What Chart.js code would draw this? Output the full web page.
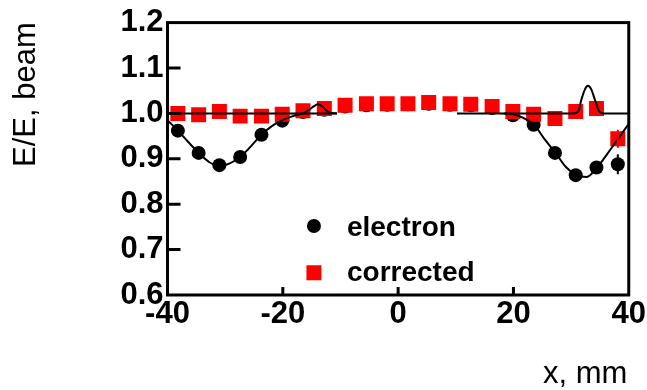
<!DOCTYPE html>
<html>
<head>
<meta charset="utf-8">
<script src="https://cdn.jsdelivr.net/npm/chart.js@4.4.1/dist/chart.umd.min.js"></script>
<style>
html, body { margin: 0; padding: 0; background: #fff; }
#wrap { width: 647px; height: 390px; position: relative; }
</style>
</head>
<body>
<div id="wrap"><canvas id="chart"></canvas></div>
<script>
// bin centres (mm)
const xPos = [-38.2, -34.6, -31.0, -27.4, -23.7, -20.1, -16.5, -12.8, -9.2, -5.5, -1.9,
              1.7, 5.3, 9.0, 12.6, 16.3, 19.9, 23.5, 27.2, 30.8, 34.4, 38.1];
const electron = [0.962, 0.913, 0.886, 0.904, 0.953, 0.984, 1.003, 1.008, 1.015, 1.018, 1.019,
                  1.020, 1.021, 1.019, 1.018, 1.012, 0.996, 0.975, 0.913, 0.864, 0.881, 0.888];
const corrected = [1.000, 0.997, 1.004, 0.994, 0.994, 0.998, 1.006, 1.011, 1.018, 1.021, 1.021,
                   1.021, 1.024, 1.021, 1.020, 1.015, 1.004, 0.998, 0.989, 1.004, 1.011, 0.944];
const electronErr = [0,0,0,0,0,0,0,0,0,0,0,0,0,0,0,0,0,0,0,0,0,0.022];
const correctedErr = [0,0,0,0,0,0,0,0,0,0,0,0,0,0,0,0,0,0,0,0,0,0.020];

// fitted curves
const fitLeftX = [-40, -38.2, -36.4, -34.6, -32.8, -31.0, -29.2, -27.4, -25.5, -23.7, -21.9, -20.1,
                  -18.5, -17.1, -16.2, -15.4, -14.6, -13.9, -13.2, -12.5, -11.6, -10.6];
const fitLeftY = [0.985, 0.962, 0.937, 0.913, 0.893, 0.884, 0.890, 0.904, 0.928, 0.953, 0.972, 0.985,
                  0.993, 0.998, 1.002, 1.008, 1.016, 1.020, 1.016, 1.007, 1.001, 1.000];
const flatLeftX = [-40, -10.6];
const flatLeftY = [1.0, 1.0];
const fitRightX = [18.3, 20.0, 21.7, 23.6, 25.3, 27.3, 29.1, 30.9, 32.7, 34.5, 36.4, 38.2, 40];
const fitRightY = [1.000, 0.998, 0.990, 0.975, 0.945, 0.913, 0.882, 0.864, 0.860, 0.881, 0.913, 0.945, 0.977];
const peakRightX = [10.2, 30.4, 31.2, 31.8, 32.4, 32.9, 33.5, 34.1, 34.9, 35.6, 40];
const peakRightY = [1.000, 1.000, 1.004, 1.031, 1.053, 1.061, 1.053, 1.031, 1.004, 1.000, 1.000];

const xTicks = [-40, -20, 0, 20, 40];
const yTicks = [0.6, 0.7, 0.8, 0.9, 1.0, 1.1, 1.2];

const FONT = "'Liberation Sans', Arial, Helvetica, sans-serif";
Chart.defaults.font.family = FONT;
Chart.defaults.color = "#000";

function pts(xs, ys) {
    return xs.map((x, i) => ({x: x, y: ys[i]}));
}

function lineSet(xs, ys) {
    return {
        type: "line",
        data: pts(xs, ys),
        borderColor: "#000",
        borderWidth: 2,
        pointRadius: 0,
        fill: false,
        cubicInterpolationMode: "monotone",
        order: 0
    };
}

const decor = {
    id: "decor",
    afterDatasetsDraw(chart) {
        const ctx = chart.ctx;
        const a = chart.chartArea;
        const xs = chart.scales.x, ys = chart.scales.y;
        ctx.save();

        // error bars
        ctx.lineWidth = 2;
        xPos.forEach((x, i) => {
            const px = xs.getPixelForValue(x);
            if (electronErr[i] > 0) {
                ctx.strokeStyle = "#000";
                ctx.beginPath();
                ctx.moveTo(px, ys.getPixelForValue(electron[i] - electronErr[i]));
                ctx.lineTo(px, ys.getPixelForValue(electron[i] + electronErr[i]));
                ctx.stroke();
            }
            if (correctedErr[i] > 0) {
                ctx.strokeStyle = "#f00";
                ctx.beginPath();
                ctx.moveTo(px, ys.getPixelForValue(corrected[i] - correctedErr[i]));
                ctx.lineTo(px, ys.getPixelForValue(corrected[i] + correctedErr[i]));
                ctx.stroke();
            }
        });

        // frame
        ctx.strokeStyle = "#000";
        ctx.lineWidth = 3;
        ctx.strokeRect(a.left, a.top, a.right - a.left, a.bottom - a.top);

        // inward tick marks
        ctx.beginPath();
        yTicks.slice(1, -1).forEach(v => {
            const py = ys.getPixelForValue(v);
            ctx.moveTo(a.left, py);
            ctx.lineTo(a.left + 13, py);
        });
        xTicks.slice(1, -1).forEach(v => {
            const px = xs.getPixelForValue(v);
            ctx.moveTo(px, a.bottom);
            ctx.lineTo(px, a.bottom - 8);
        });
        ctx.stroke();

        // legend
        const lx = xs.getPixelForValue(-14.6);
        const ly1 = ys.getPixelForValue(0.752);
        const ly2 = ys.getPixelForValue(0.649);
        ctx.fillStyle = "#000";
        ctx.beginPath();
        ctx.arc(lx, ly1, 7, 0, Math.PI * 2);
        ctx.fill();
        ctx.fillStyle = "#f00";
        ctx.fillRect(lx - 7.5, ly2 - 7.5, 15, 15);
        ctx.fillStyle = "#000";
        ctx.font = "bold 28px " + FONT;
        ctx.textBaseline = "middle";
        ctx.textAlign = "left";
        ctx.fillText("electron", lx + 33, ly1 + 2);
        ctx.fillText("corrected", lx + 33, ly2 + 1);

        // axis titles
        ctx.font = "31px " + FONT;
        ctx.textBaseline = "alphabetic";
        ctx.fillText("x, mm", 543, 383);
        ctx.translate(35, 167);
        ctx.rotate(-Math.PI / 2);
        ctx.fillText("E/E, beam", 0, 0);
        ctx.restore();
    }
};

new Chart(document.getElementById("chart"), {
    type: "scatter",
    data: {
        datasets: [
            lineSet(fitLeftX, fitLeftY),
            lineSet(flatLeftX, flatLeftY),
            lineSet(fitRightX, fitRightY),
            lineSet(peakRightX, peakRightY),
            {
                label: "corrected",
                data: pts(xPos, corrected),
                pointStyle: "rect",
                pointRadius: 10.6,
                pointBackgroundColor: "#f00",
                pointBorderWidth: 0,
                order: 1
            },
            {
                label: "electron",
                data: pts(xPos, electron),
                pointStyle: "circle",
                pointRadius: 7,
                pointBackgroundColor: "#000",
                pointBorderWidth: 0,
                order: 2
            }
        ]
    },
    options: {
        responsive: true,
        maintainAspectRatio: false,
        animation: false,
        layout: {padding: {top: 20, right: 16, left: 0, bottom: 0}},
        plugins: {legend: {display: false}, tooltip: {enabled: false}},
        scales: {
            x: {
                type: "linear",
                min: -40, max: 40,
                afterBuildTicks: s => { s.ticks = xTicks.map(v => ({value: v})); },
                afterFit: s => { s.height = 95; },
                grid: {display: false, drawTicks: false},
                border: {display: false},
                ticks: {
                    padding: 1,
                    font: {size: 31, weight: "bold"},
                    callback: v => String(v)
                }
            },
            y: {
                min: 0.6, max: 1.2,
                afterBuildTicks: s => { s.ticks = yTicks.map(v => ({value: v})); },
                afterFit: s => { s.width = 167.5; },
                grid: {display: false, drawTicks: false},
                border: {display: false},
                ticks: {
                    padding: 4,
                    font: {size: 31, weight: "bold"},
                    callback: v => Number(v).toFixed(1)
                }
            }
        }
    },
    plugins: [decor]
});
</script>
</body>
</html>
